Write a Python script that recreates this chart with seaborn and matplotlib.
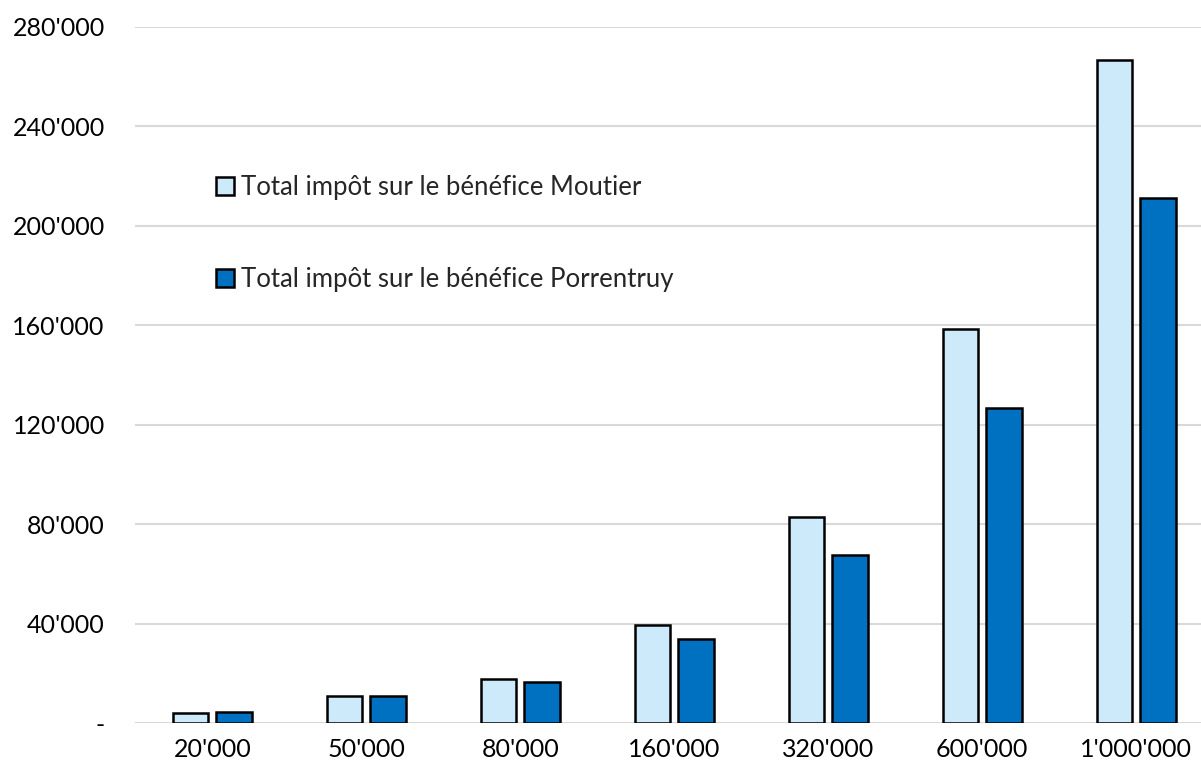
import matplotlib
matplotlib.use("Agg")
import matplotlib.pyplot as plt
import matplotlib.ticker as mticker
import seaborn as sns
import pandas as pd

# Data
benefice = ["20'000", "50'000", "80'000", "160'000", "320'000", "600'000", "1'000'000"]
moutier = [3900, 10800, 17800, 39500, 82800, 158400, 266800]
porrentruy = [4300, 10800, 16600, 33700, 67600, 126900, 211300]
series_names = ["Total impôt sur le bénéfice Moutier",
                "Total impôt sur le bénéfice Porrentruy"]
y_ticks = [0, 40000, 80000, 120000, 160000, 200000, 240000, 280000]

df = pd.DataFrame({
    "benefice": benefice * 2,
    "impot": moutier + porrentruy,
    "serie": [series_names[0]] * len(benefice) + [series_names[1]] * len(benefice),
})

sns.set_style("white")
plt.rcParams["font.family"] = ["Lato", "DejaVu Sans"]

fig = plt.figure(figsize=(12.01, 7.70), dpi=100)
ax = fig.add_axes([135.3 / 1201, 1 - 723 / 770, (1201 - 135.3) / 1201, (723 - 27) / 770])

sns.barplot(data=df, x="benefice", y="impot", hue="serie", order=benefice,
            hue_order=series_names, palette=["#cdeafb", "#0070c0"], saturation=1,
            width=0.57, gap=0.19, edgecolor="black", linewidth=1.8,
            ax=ax, zorder=3)

ax.set_ylim(0, 280000)
ax.set_xlim(-0.5, -0.5 + (1201 - 135.3) / 154)
ax.set_yticks(y_ticks)


def fmt(v, pos):
    if v == 0:
        return "-"
    return f"{int(v):,}".replace(",", "'")


ax.yaxis.set_major_formatter(mticker.FuncFormatter(fmt))
ax.grid(axis="y", color="#d9d9d9", linewidth=1.5, zorder=0)
ax.set_axisbelow(True)
for s in ax.spines.values():
    s.set_visible(False)
ax.tick_params(axis="both", length=0, labelsize=18, colors="black")
ax.tick_params(axis="y", pad=22)
ax.tick_params(axis="x", pad=11)
ax.set_xlabel("")
ax.set_ylabel("")

ax.legend(loc="upper left", bbox_to_anchor=(0.076, 0.787), frameon=False,
          fontsize=18.5, labelspacing=2.6, handlelength=0.7, handleheight=0.7,
          handletextpad=0.25, borderaxespad=0, borderpad=0)

fig.savefig("out.png", dpi=100)
